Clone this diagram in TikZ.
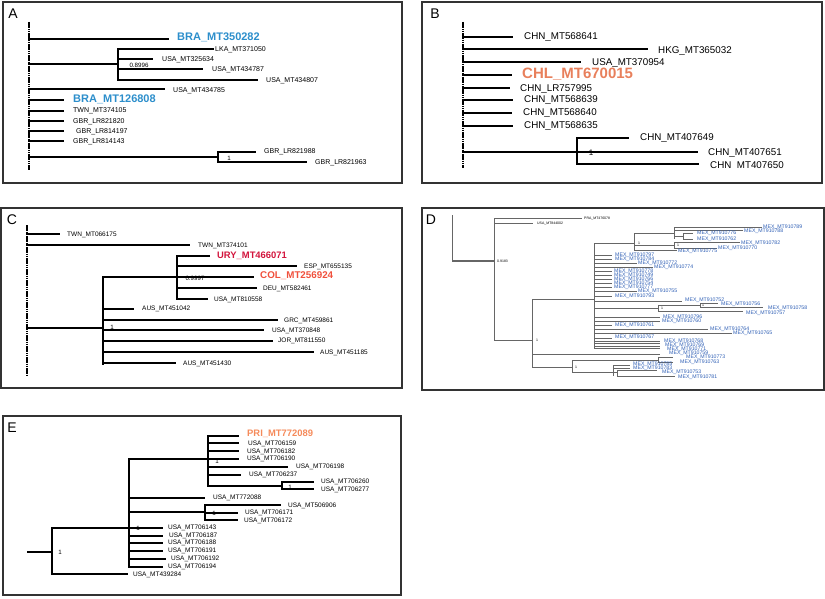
\documentclass[tikz,border=0pt]{standalone}
\usepackage{fontspec}
\setmainfont{Liberation Sans}
\usepackage{xcolor}
\definecolor{brablue}{HTML}{2C8ECB}
\definecolor{chlorange}{HTML}{E8805C}
\definecolor{uryred}{HTML}{D2143C}
\definecolor{colred}{HTML}{F0503C}
\definecolor{priorange}{HTML}{F58A5A}
\definecolor{mexblue}{HTML}{2F5FB5}
\definecolor{framegray}{HTML}{333333}
\definecolor{treegray}{HTML}{666666}

\begin{document}
\begin{tikzpicture}[x=1pt,y=-1pt,
    frame/.style={framegray, line width=1.6pt},
    br/.style={black, line width=1.3pt, line cap=rect},
    thinbr/.style={black, line width=1.1pt, line cap=rect},
    dbr/.style={treegray, line width=0.75pt},
    root/.style={black, line width=1.2pt, dash pattern=on 1.6pt off 0.6pt},
    plab/.style={anchor=center, inner sep=0pt, font=\fontsize{14}{14}\selectfont},
    lf/.style={anchor=west, inner sep=0pt, font=\fontsize{7}{8}\selectfont},
    lfb/.style={anchor=west, inner sep=0pt, font=\fontsize{9.8}{10}\selectfont},
    lfc/.style={anchor=west, inner sep=0pt, font=\fontsize{6.5}{7}\selectfont},
    lfd/.style={anchor=west, inner sep=0pt, text=mexblue, font=\fontsize{5.2}{5}\selectfont},
    tiny/.style={anchor=west, inner sep=0pt, font=\fontsize{3.5}{4}\selectfont},
    bs/.style={anchor=center, inner sep=0pt, font=\fontsize{6.2}{6}\selectfont},
    bsd/.style={anchor=center, inner sep=0pt, font=\fontsize{3.5}{4}\selectfont},
    hl/.style={anchor=west, inner sep=0pt, font=\bfseries\fontsize{11}{11}\selectfont}]
  \useasboundingbox (0,0) rectangle (825,599);

  % A
  \draw [frame] (3,2) rectangle (402,183);
  \node [plab] (la) at (13,14) {A};
  \draw [root] (29,22) -- (29,170);
  \draw [br] (29,39) -- (168,39);
  \node [hl, brablue] (a1) at (177,37) {BRA\_MT350282};
  \draw [br] (29,64) -- (118,64);
  \draw [br] (118,49) -- (118,80);
  \draw [br] (118,49) -- (213,49);
  \node [lf] (a2) at (215,50) {LKA\_MT371050};
  \draw [br] (118,59) -- (152,59);
  \node [lf] (a3) at (162,60) {USA\_MT325634};
  \draw [br] (118,69) -- (202,69);
  \node [lf] (a4) at (212,70) {USA\_MT434787};
  \draw [br] (118,80) -- (257,80);
  \node [lf] (a5) at (266,81) {USA\_MT434807};
  \node [bs] (a6) at (139,65.5) {0.8996};
  \draw [br] (29,89) -- (164,89);
  \node [lf] (a7) at (173,91) {USA\_MT434785};
  \draw [br] (29,100) -- (63,100);
  \node [hl, brablue] (a8) at (73,99) {BRA\_MT126808};
  \draw [br] (29,111) -- (63,111);
  \node [lf] (a9) at (73,111) {TWN\_MT374105};
  \draw [br] (29,121) -- (63,121);
  \node [lf] (a10) at (73,122) {GBR\_LR821820};
  \draw [br] (29,131) -- (63,131);
  \node [lf] (a11) at (76,132) {GBR\_LR814197};
  \draw [br] (29,141) -- (63,141);
  \node [lf] (a12) at (73,142) {GBR\_LR814143};
  \draw [br] (29,157) -- (218,157);
  \draw [br] (218,152) -- (218,162);
  \draw [br] (218,152) -- (255,152);
  \node [lf] (a13) at (264,152) {GBR\_LR821988};
  \draw [br] (218,162) -- (306,162);
  \node [lf] (a14) at (315,163) {GBR\_LR821963};
  \node [bs] (a15) at (229,158) {1};

  % B
  \draw [frame] (422,2) rectangle (822,183);
  \node [plab] (lb) at (435,14) {B};
  \draw [root] (463,22) -- (463,168);
  \draw [br] (463,37) -- (512,37);
  \node [lfb] (b1) at (524,37) {CHN\_MT568641};
  \draw [br] (463,49) -- (647,49);
  \node [lfb] (b2) at (658,51) {HKG\_MT365032};
  \draw [br] (463,62) -- (580,62);
  \node [lfb] (b3) at (592,63) {USA\_MT370954};
  \draw [br] (463,75) -- (511,75);
  \node [anchor=west, inner sep=0pt, chlorange, font=\bfseries\fontsize{15}{15}\selectfont] (b4) at (522,74) {CHL\_MT670015};
  \draw [br] (463,88) -- (509,88);
  \node [lfb] (b5) at (520,89) {CHN\_LR757995};
  \draw [br] (463,100) -- (512,100);
  \node [lfb] (b6) at (524,100) {CHN\_MT568639};
  \draw [br] (463,113) -- (511,113);
  \node [lfb] (b7) at (523,113) {CHN\_MT568640};
  \draw [br] (463,126) -- (512,126);
  \node [lfb] (b8) at (524,126) {CHN\_MT568635};
  \draw [br] (463,152) -- (577,152);
  \draw [br] (577,138) -- (577,164);
  \draw [br] (577,138) -- (628,138);
  \node [lfb] (b9) at (640,138) {CHN\_MT407649};
  \draw [br] (577,152) -- (697,152);
  \node [lfb] (b10) at (708,153) {CHN\_MT407651};
  \draw [br] (577,164) -- (698,164);
  \node [lfb] (b11) at (710,165) {CHN~~MT407650};
  \node [anchor=center, inner sep=0pt, font=\fontsize{8}{8}\selectfont] (b12) at (591,153) {1};

  % C
  \draw [frame] (1,208) rectangle (402,388);
  \node [plab] (lc) at (12,220) {C};
  \draw [root] (27,225) -- (27,375);
  \draw [thinbr] (27,234) -- (59,234);
  \node [lfc] (c1) at (67,235) {TWN\_MT066175};
  \draw [thinbr] (27,245) -- (189,245);
  \node [lfc] (c2) at (198,246) {TWN\_MT374101};
  \draw [thinbr] (27,328) -- (103,328);
  \draw [thinbr] (103,277) -- (103,364);
  \draw [thinbr] (103,277) -- (253,277);
  \node [anchor=west, inner sep=0pt, colred, font=\bfseries\fontsize{9.8}{10}\selectfont] (c3) at (260,276) {COL\_MT256924};
  \draw [thinbr] (177,256) -- (177,299);
  \draw [thinbr] (177,256) -- (209,256);
  \node [anchor=west, inner sep=0pt, uryred, font=\bfseries\fontsize{9.4}{10}\selectfont] (c4) at (217,256) {URY\_MT466071};
  \draw [thinbr] (177,266) -- (296,266);
  \node [lfc] (c5) at (304,267) {ESP\_MT655135};
  \draw [thinbr] (177,288) -- (256,288);
  \node [lfc] (c6) at (263,289) {DEU\_MT582461};
  \draw [thinbr] (177,299) -- (207,299);
  \node [lfc] (c7) at (214,300) {USA\_MT810558};
  \node [bs] (c8) at (195,278.5) {0.9997};
  \draw [thinbr] (103,309) -- (133,309);
  \node [lfc] (c9) at (142,309) {AUS\_MT451042};
  \draw [thinbr] (103,320) -- (277,320);
  \node [lfc] (c10) at (284,321) {GRC\_MT459861};
  \draw [thinbr] (103,330) -- (263,330);
  \node [lfc] (c11) at (272,331) {USA\_MT370848};
  \draw [thinbr] (103,341) -- (272,341);
  \node [lfc] (c12) at (278,341) {JOR\_MT811550};
  \draw [thinbr] (103,352) -- (313,352);
  \node [lfc] (c13) at (320,353) {AUS\_MT451185};
  \draw [thinbr] (103,363) -- (175,363);
  \node [lfc] (c14) at (183,364) {AUS\_MT451430};
  \node [bs] (c15) at (112,327) {1};

  % D
  \draw [frame] (422,208) rectangle (824,390);
  \node [plab] (ld) at (431,220) {D};
  \draw [treegray, line width=1pt, dash pattern=on 1.5pt off 0.5pt] (452,215) -- (452,261);
  \draw [treegray, line width=1.2pt] (452,261) -- (494,261);
  \node [tiny] (d0) at (497,261) {0.9183};
  \draw [dbr] (494,218) -- (494,340);
  \draw [dbr] (494,218) -- (582,218);
  \node [tiny] (d1) at (584,219) {PRA\_MT476078};
  \draw [dbr] (494,223) -- (533,223);
  \node [tiny] (d2) at (537,224) {USA\_MT844002};
  \draw [dbr] (494,340) -- (532,340);
  \node [bsd] (d3) at (537,340) {1};
  \draw [dbr] (532,299) -- (532,367);
  \draw [dbr, line width=1pt] (532,299) -- (594,299);
  \draw [dbr] (594,243) -- (594,348);
  \draw [dbr] (594,243) -- (634,243);
  \node [bsd] (d4) at (639,243) {1};
  \draw [dbr] (634,233) -- (634,250);
  \draw [dbr] (634,233) -- (674,233);
  \draw [dbr] (674,227) -- (674,239);
  \draw [dbr] (674,227) -- (762,227);
  \node [lfd] (d5) at (763,227) {MEX\_MT910789};
  \draw [dbr] (674,230) -- (743,230);
  \node [lfd] (d6) at (744,231) {MEX\_MT910788};
  \draw [dbr] (674,236) -- (683,236);
  \draw [dbr] (683,233) -- (683,239);
  \draw [dbr] (683,233) -- (693,233);
  \node [lfd] (d7) at (697,233) {MEX\_MT910776};
  \draw [dbr] (683,239) -- (693,239);
  \node [lfd] (d8) at (697,239) {MEX\_MT910762};
  \draw [dbr] (634,245) -- (674,245);
  \draw [dbr] (674,242) -- (674,248);
  \draw [dbr] (674,242) -- (740,242);
  \node [lfd] (d9) at (741,243) {MEX\_MT910782};
  \draw [dbr] (674,248) -- (717,248);
  \node [lfd] (d10) at (718,248) {MEX\_MT910770};
  \node [bsd] (d11) at (678,245) {1};
  \draw [dbr] (634,250) -- (677,250);
  \node [lfd] (d12) at (678,251) {MEX\_MT910775};
  \draw [dbr] (594,255) -- (612,255);
  \node [lfd] (d13) at (615,255) {MEX\_MT910797};
  \draw [dbr] (594,259) -- (612,259);
  \node [lfd] (d14) at (615,259) {MEX\_MT910784};
  \draw [dbr] (594,263) -- (637,263);
  \node [lfd] (d15) at (638,263) {MEX\_MT910772};
  \draw [dbr] (594,267) -- (653,267);
  \node [lfd] (d16) at (654,267) {MEX\_MT910774};
  \draw [dbr] (594,271) -- (612,271);
  \node [lfd] (d17) at (614,271) {MEX\_MT910778};
  \draw [dbr] (594,275) -- (612,275);
  \node [lfd] (d18) at (614,275) {MEX\_MT910749};
  \draw [dbr] (594,279) -- (612,279);
  \node [lfd] (d19) at (614,279) {MEX\_MT910766};
  \draw [dbr] (594,283) -- (612,283);
  \node [lfd] (d20) at (614,283) {MEX\_MT910754};
  \draw [dbr] (594,287) -- (612,287);
  \node [lfd] (d21) at (614,287) {MEX\_MT910777};
  \draw [dbr] (594,291) -- (637,291);
  \node [lfd] (d22) at (638,291) {MEX\_MT910755};
  \draw [dbr] (594,296) -- (612,296);
  \node [lfd] (d23) at (615,296) {MEX\_MT910793};
  \draw [dbr] (594,301) -- (682,301);
  \node [lfd] (d24) at (685,300) {MEX\_MT910752};
  \draw [dbr] (594,308) -- (658,308);
  \node [bsd] (d25) at (662,308) {1};
  \draw [dbr] (658,305) -- (658,311);
  \draw [dbr] (658,305) -- (700,305);
  \draw [dbr] (700,303) -- (700,307);
  \node [bsd] (d26) at (703,305) {1};
  \draw [dbr] (700,303) -- (718,303);
  \node [lfd] (d27) at (721,304) {MEX\_MT910756};
  \draw [dbr] (700,307) -- (763,307);
  \node [lfd] (d28) at (768,308) {MEX\_MT910758};
  \draw [dbr] (658,311) -- (743,311);
  \node [lfd] (d29) at (746,313) {MEX\_MT910757};
  \draw [dbr] (594,317) -- (660,317);
  \node [lfd] (d30) at (663,317) {MEX\_MT910796};
  \draw [dbr] (594,321) -- (660,321);
  \node [lfd] (d31) at (662,321) {MEX\_MT910760};
  \draw [dbr] (594,325) -- (612,325);
  \node [lfd] (d32) at (615,325) {MEX\_MT910761};
  \draw [dbr] (594,329) -- (708,329);
  \node [lfd] (d33) at (710,329) {MEX\_MT910764};
  \draw [dbr] (594,333) -- (732,333);
  \node [lfd] (d34) at (733,333) {MEX\_MT910765};
  \draw [dbr] (594,338) -- (612,338);
  \node [lfd] (d35) at (615,337) {MEX\_MT910767};
  \draw [dbr] (594,341) -- (660,341);
  \node [lfd] (d36) at (664,341) {MEX\_MT910768};
  \draw [dbr] (594,343.5) -- (660,343.5);
  \node [lfd] (d37) at (665,345) {MEX\_MT910769};
  \draw [dbr] (594,346) -- (660,346);
  \node [lfd] (d38) at (667,349) {MEX\_MT910771};
  \draw [dbr] (594,348) -- (660,348);
  \node [lfd] (d39) at (669,353) {MEX\_MT910759};
  \draw [dbr] (532,354) -- (660,354);
  \draw [dbr] (532,367) -- (572,367);
  \node [bsd] (d40) at (576,367) {1};
  \draw [dbr] (572,360) -- (572,372);
  \draw [dbr] (572,360) -- (658,360);
  \draw [dbr] (658,357) -- (658,362);
  \draw [dbr] (658,357) -- (673,357);
  \node [lfd] (d41) at (686,357) {MEX\_MT910773};
  \draw [dbr] (658,362) -- (673,362);
  \node [lfd] (d42) at (680,362) {MEX\_MT910763};
  \draw [dbr] (572,372) -- (613,372);
  \draw [dbr] (613,365) -- (613,376);
  \draw [dbr] (613,365) -- (630,365);
  \node [lfd] (d43) at (633,364) {MEX\_MT910785};
  \draw [dbr] (613,368) -- (630,368);
  \node [lfd] (d44) at (633,368) {MEX\_MT910783};
  \draw [dbr] (613,372) -- (617,372);
  \draw [dbr] (617,370) -- (617,376);
  \draw [dbr] (617,370) -- (657,370);
  \node [lfd] (d45) at (662,372) {MEX\_MT910753};
  \draw [dbr] (617,376) -- (675,376);
  \node [lfd] (d46) at (678,377) {MEX\_MT910781};

  % E
  \draw [frame] (3,416) rectangle (401,595);
  \node [plab] (le) at (12,428) {E};
  \draw [thinbr] (28,552) -- (52,552);
  \node [bs] (e0) at (60,552) {1};
  \draw [thinbr] (52,528) -- (52,574);
  \draw [thinbr] (52,528) -- (129,528);
  \draw [thinbr] (52,574) -- (127,574);
  \node [lfc] (e1) at (133,575) {USA\_MT439284};
  \draw [thinbr] (129,459) -- (129,567);
  \draw [thinbr] (129,459) -- (208,459);
  \draw [thinbr] (208,436) -- (208,486);
  \draw [thinbr] (208,436) -- (238,436);
  \node [anchor=west, inner sep=0pt, priorange, font=\bfseries\fontsize{9.4}{10}\selectfont] (e2) at (247,434) {PRI\_MT772089};
  \draw [thinbr] (208,443) -- (238,443);
  \node [lfc] (e3) at (248,444) {USA\_MT706159};
  \draw [thinbr] (208,451) -- (238,451);
  \node [lfc] (e4) at (247,452) {USA\_MT706182};
  \draw [thinbr] (208,459) -- (238,459);
  \node [lfc] (e5) at (247,459) {USA\_MT706190};
  \node [bs] (e6) at (217,461) {1};
  \draw [thinbr] (208,467) -- (287,467);
  \node [lfc] (e7) at (296,467) {USA\_MT706198};
  \draw [thinbr] (208,475) -- (240,475);
  \node [lfc] (e8) at (249,475) {USA\_MT706237};
  \draw [thinbr] (208,486) -- (282,486);
  \draw [thinbr] (282,482) -- (282,489);
  \draw [thinbr] (282,482) -- (313,482);
  \node [lfc] (e9) at (321,482) {USA\_MT706260};
  \draw [thinbr] (282,489) -- (313,489);
  \node [lfc] (e10) at (321,490) {USA\_MT706277};
  \node [bs] (e11) at (290,487) {1};
  \draw [thinbr] (129,498) -- (204,498);
  \node [lfc] (e12) at (213,498) {USA\_MT772088};
  \draw [thinbr] (129,512) -- (205,512);
  \draw [thinbr] (205,505) -- (205,520);
  \draw [thinbr] (205,505) -- (280,505);
  \node [lfc] (e13) at (288,506) {USA\_MT506906};
  \draw [thinbr] (205,513) -- (237,513);
  \node [lfc] (e14) at (245,513) {USA\_MT706171};
  \draw [thinbr] (205,520) -- (237,520);
  \node [lfc] (e15) at (244,521) {USA\_MT706172};
  \node [bs] (e16) at (214,513) {1};
  \draw [thinbr] (129,528) -- (162,528);
  \node [lfc] (e17) at (168,528) {USA\_MT706143};
  \node [bs] (e18) at (138,528) {1};
  \draw [thinbr] (129,536) -- (162,536);
  \node [lfc] (e19) at (169,536) {USA\_MT706187};
  \draw [thinbr] (129,543) -- (162,543);
  \node [lfc] (e20) at (168,543) {USA\_MT706188};
  \draw [thinbr] (129,551) -- (162,551);
  \node [lfc] (e21) at (168,551) {USA\_MT706191};
  \draw [thinbr] (129,559) -- (165,559);
  \node [lfc] (e22) at (171,559) {USA\_MT706192};
  \draw [thinbr] (129,567) -- (162,567);
  \node [lfc] (e23) at (168,567) {USA\_MT706194};
\end{tikzpicture}
\end{document}
